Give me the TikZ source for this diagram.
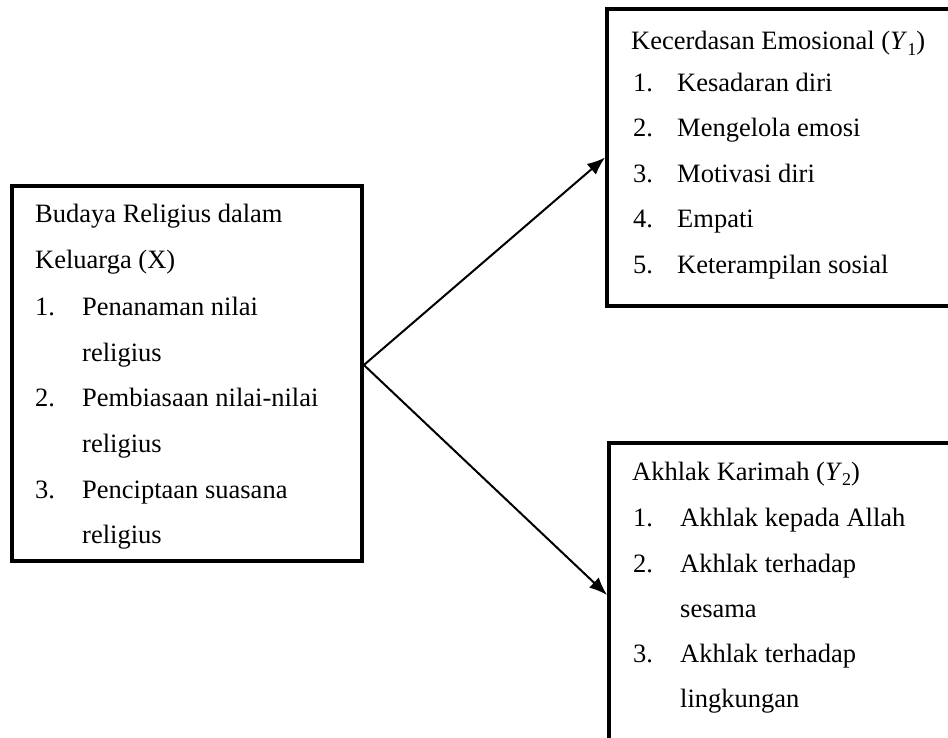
\documentclass[tikz,border=0pt]{standalone}
\usepackage{fontspec}
\setmainfont{Liberation Serif}
\usetikzlibrary{arrows.meta}
\newcommand{\mysub}[1]{\raisebox{-0.22em}{\fontsize{18}{20}\selectfont #1}}
\tikzset{
  box/.style={draw, line width=3.8pt, rectangle, inner sep=0pt},
  txt/.style={anchor=base west, inner sep=0pt, font=\fontsize{26.5}{30}\selectfont},
  arr/.style={line width=2pt, -{Latex[length=18pt,width=14pt]}}
}
\begin{document}
\begin{tikzpicture}[x=1pt,y=-1pt]
\useasboundingbox (0,0) rectangle (948,738);
\fill[white] (0,0) rectangle (948,738);
\clip (0,0) rectangle (948,738);
% boxes
\node[box, minimum width=350pt, minimum height=375pt] (X) at (187,373.5) {};
\node[box, minimum width=380pt, minimum height=297pt] (Y1) at (797,157.5) {};
\node[box, minimum width=380pt, minimum height=304pt] (Y2) at (799,595) {};
% left box text
\node[txt] (x0) at (35,223) {Budaya Religius dalam};
\node[txt] (x1) at (35,269) {Keluarga (X)};
\node[txt] (x2n) at (35,315) {1.};
\node[txt] (x2) at (82,315) {Penanaman nilai};
\node[txt] (x3) at (82,361) {religius};
\node[txt] (x4n) at (35,406) {2.};
\node[txt] (x4) at (82,406) {Pembiasaan nilai-nilai};
\node[txt] (x5) at (82,452) {religius};
\node[txt] (x6n) at (35,498) {3.};
\node[txt] (x6) at (82,498) {Penciptaan suasana};
\node[txt] (x7) at (82,543) {religius};
% Y1 text
\node[txt] (a0) at (631,50) {Kecerdasan Emosional (\textit{Y}\mysub{1})};
\node[txt] (a1n) at (633,92) {1.};
\node[txt] (a1) at (677,92) {Kesadaran diri};
\node[txt] (a2n) at (633,137) {2.};
\node[txt] (a2) at (677,137) {Mengelola emosi};
\node[txt] (a3n) at (633,183) {3.};
\node[txt] (a3) at (677,183) {Motivasi diri};
\node[txt] (a4n) at (633,228) {4.};
\node[txt] (a4) at (677,228) {Empati};
\node[txt] (a5n) at (633,273) {5.};
\node[txt] (a5) at (677,273) {Keterampilan sosial};
% Y2 text
\node[txt] (b0) at (632,480) {Akhlak Karimah (\textit{Y}\mysub{2})};
\node[txt] (b1n) at (633,526) {1.};
\node[txt] (b1) at (680,526) {Akhlak kepada Allah};
\node[txt] (b2n) at (633,572) {2.};
\node[txt] (b2) at (680,572) {Akhlak terhadap};
\node[txt] (b3) at (680,617) {sesama};
\node[txt] (b4n) at (633,662) {3.};
\node[txt] (b4) at (680,662) {Akhlak terhadap};
\node[txt] (b5) at (680,707) {lingkungan};
% connectors
\coordinate (src) at ([yshift=8.5pt]X.east);
\draw[arr] (src) -- (Y1.west);
\draw[arr] (src) -- (Y2.west);
\end{tikzpicture}
\end{document}
